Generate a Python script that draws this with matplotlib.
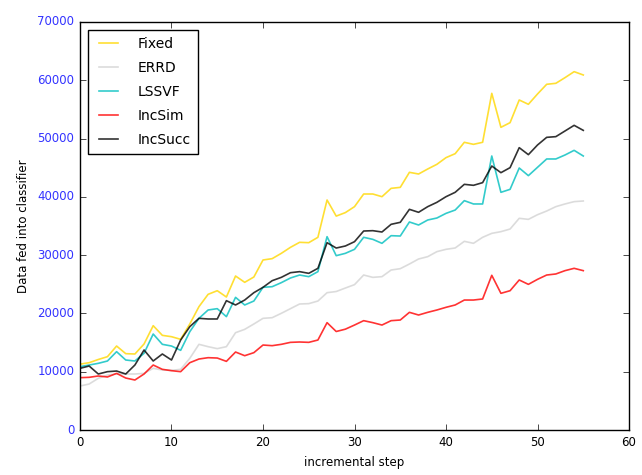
import matplotlib
matplotlib.use("Agg")
import matplotlib.pyplot as plt

plt.style.use('classic')

steps = list(range(56))

fixed = [11300, 11550, 12100, 12580, 14410, 13100, 13040, 14760, 17900, 16240,
         16010, 15560, 18190, 21160, 23280, 23900, 22820, 26420, 25340, 26250,
         29170, 29400, 30310, 31340, 32200, 32140, 33060, 39460, 36700, 37300,
         38320, 40490, 40490, 40030, 41460, 41630, 44210, 43920, 44780, 45580,
         46730, 47410, 49360, 49010, 49360, 57760, 51930, 52730, 56620, 55880,
         57650, 59310, 59480, 60450, 61480, 60910]

errd = [7550, 7890, 8870, 9440, 9610, 9610, 9610, 9720, 10580, 10300,
        10240, 10410, 12300, 14700, 14300, 13960, 14300, 16700, 17270, 18190,
        19160, 19270, 20020, 20820, 21620, 21680, 22130, 23560, 23760, 24360,
        24940, 26590, 26190, 26310, 27450, 27680, 28480, 29340, 29740, 30600,
        31000, 31230, 32370, 32030, 33060, 33740, 34030, 34480, 36320, 36140,
        36940, 37570, 38320, 38780, 39180, 39290]

lssvf = [10870, 11150, 11440, 11840, 13440, 12010, 11840, 13160, 16470, 14700,
         14410, 13670, 16870, 19160, 20590, 20820, 19450, 22760, 21450, 22130,
         24480, 24590, 25280, 26080, 26590, 26310, 27170, 33170, 29910, 30310,
         31000, 33060, 32710, 32030, 33340, 33280, 35690, 35170, 36030, 36370,
         37170, 37740, 39350, 38780, 38780, 47010, 40780, 41290, 44950, 43640,
         45070, 46500, 46500, 47180, 47980, 47010]

incsim = [8980, 9040, 9270, 9100, 9720, 8920, 8580, 9610, 11150, 10410,
          10180, 10010, 11550, 12180, 12410, 12350, 11780, 13380, 12750, 13270,
          14580, 14470, 14700, 15040, 15100, 15040, 15440, 18420, 16900, 17300,
          18010, 18760, 18420, 18010, 18760, 18870, 20190, 19730, 20190, 20590,
          21050, 21450, 22300, 22300, 22480, 26540, 23450, 23900, 25740, 24990,
          25850, 26590, 26770, 27340, 27740, 27340]

incsucc = [10580, 10980, 9610, 10010, 10120, 9610, 11150, 13730, 11840, 13040,
           12010, 15440, 17730, 19160, 19050, 19050, 22190, 21450, 22300, 23560,
           24480, 25620, 26190, 26990, 27170, 26880, 27740, 32140, 31220, 31570,
           32310, 34140, 34200, 33970, 35290, 35630, 37860, 37350, 38320, 39060,
           40030, 40780, 42150, 41980, 42440, 45290, 44150, 45010, 48440, 47240,
           48900, 50210, 50330, 51300, 52270, 51410]

series_names = ["Fixed", "ERRD", "LSSVF", "IncSim", "IncSucc"]
series_data = [fixed, errd, lssvf, incsim, incsucc]
series_colors = ["gold", "lightgray", "c", "r", "k"]

fig = plt.figure(figsize=(6.42, 4.75), dpi=100, facecolor='white')
ax = fig.add_axes([0.1246, 0.0947, 0.8552, 0.859])

for name, data, col in zip(series_names, series_data, series_colors):
    ax.plot(steps, data, color=col, alpha=0.8, linewidth=1.2, label=name)

ax.set_xlim(0, 60)
ax.set_ylim(0, 70000)
ax.set_xticks(range(0, 61, 10))
ax.set_yticks(range(0, 70001, 10000))
ax.tick_params(axis='both', labelsize=8.5)
ax.tick_params(axis='y', labelcolor=(0.2, 0.2, 1.0))
ax.set_xlabel("incremental step", fontsize=8.5)
ax.set_ylabel("Data fed into classifier", fontsize=8.5)

leg = ax.legend(loc='upper left', fontsize=10.0, handlelength=2.0,
                handletextpad=1.1, borderaxespad=0.55, labelspacing=0.72,
                borderpad=0.5)
leg.get_frame().set_linewidth(1.0)

fig.savefig("out.png", dpi=100, facecolor='white')
